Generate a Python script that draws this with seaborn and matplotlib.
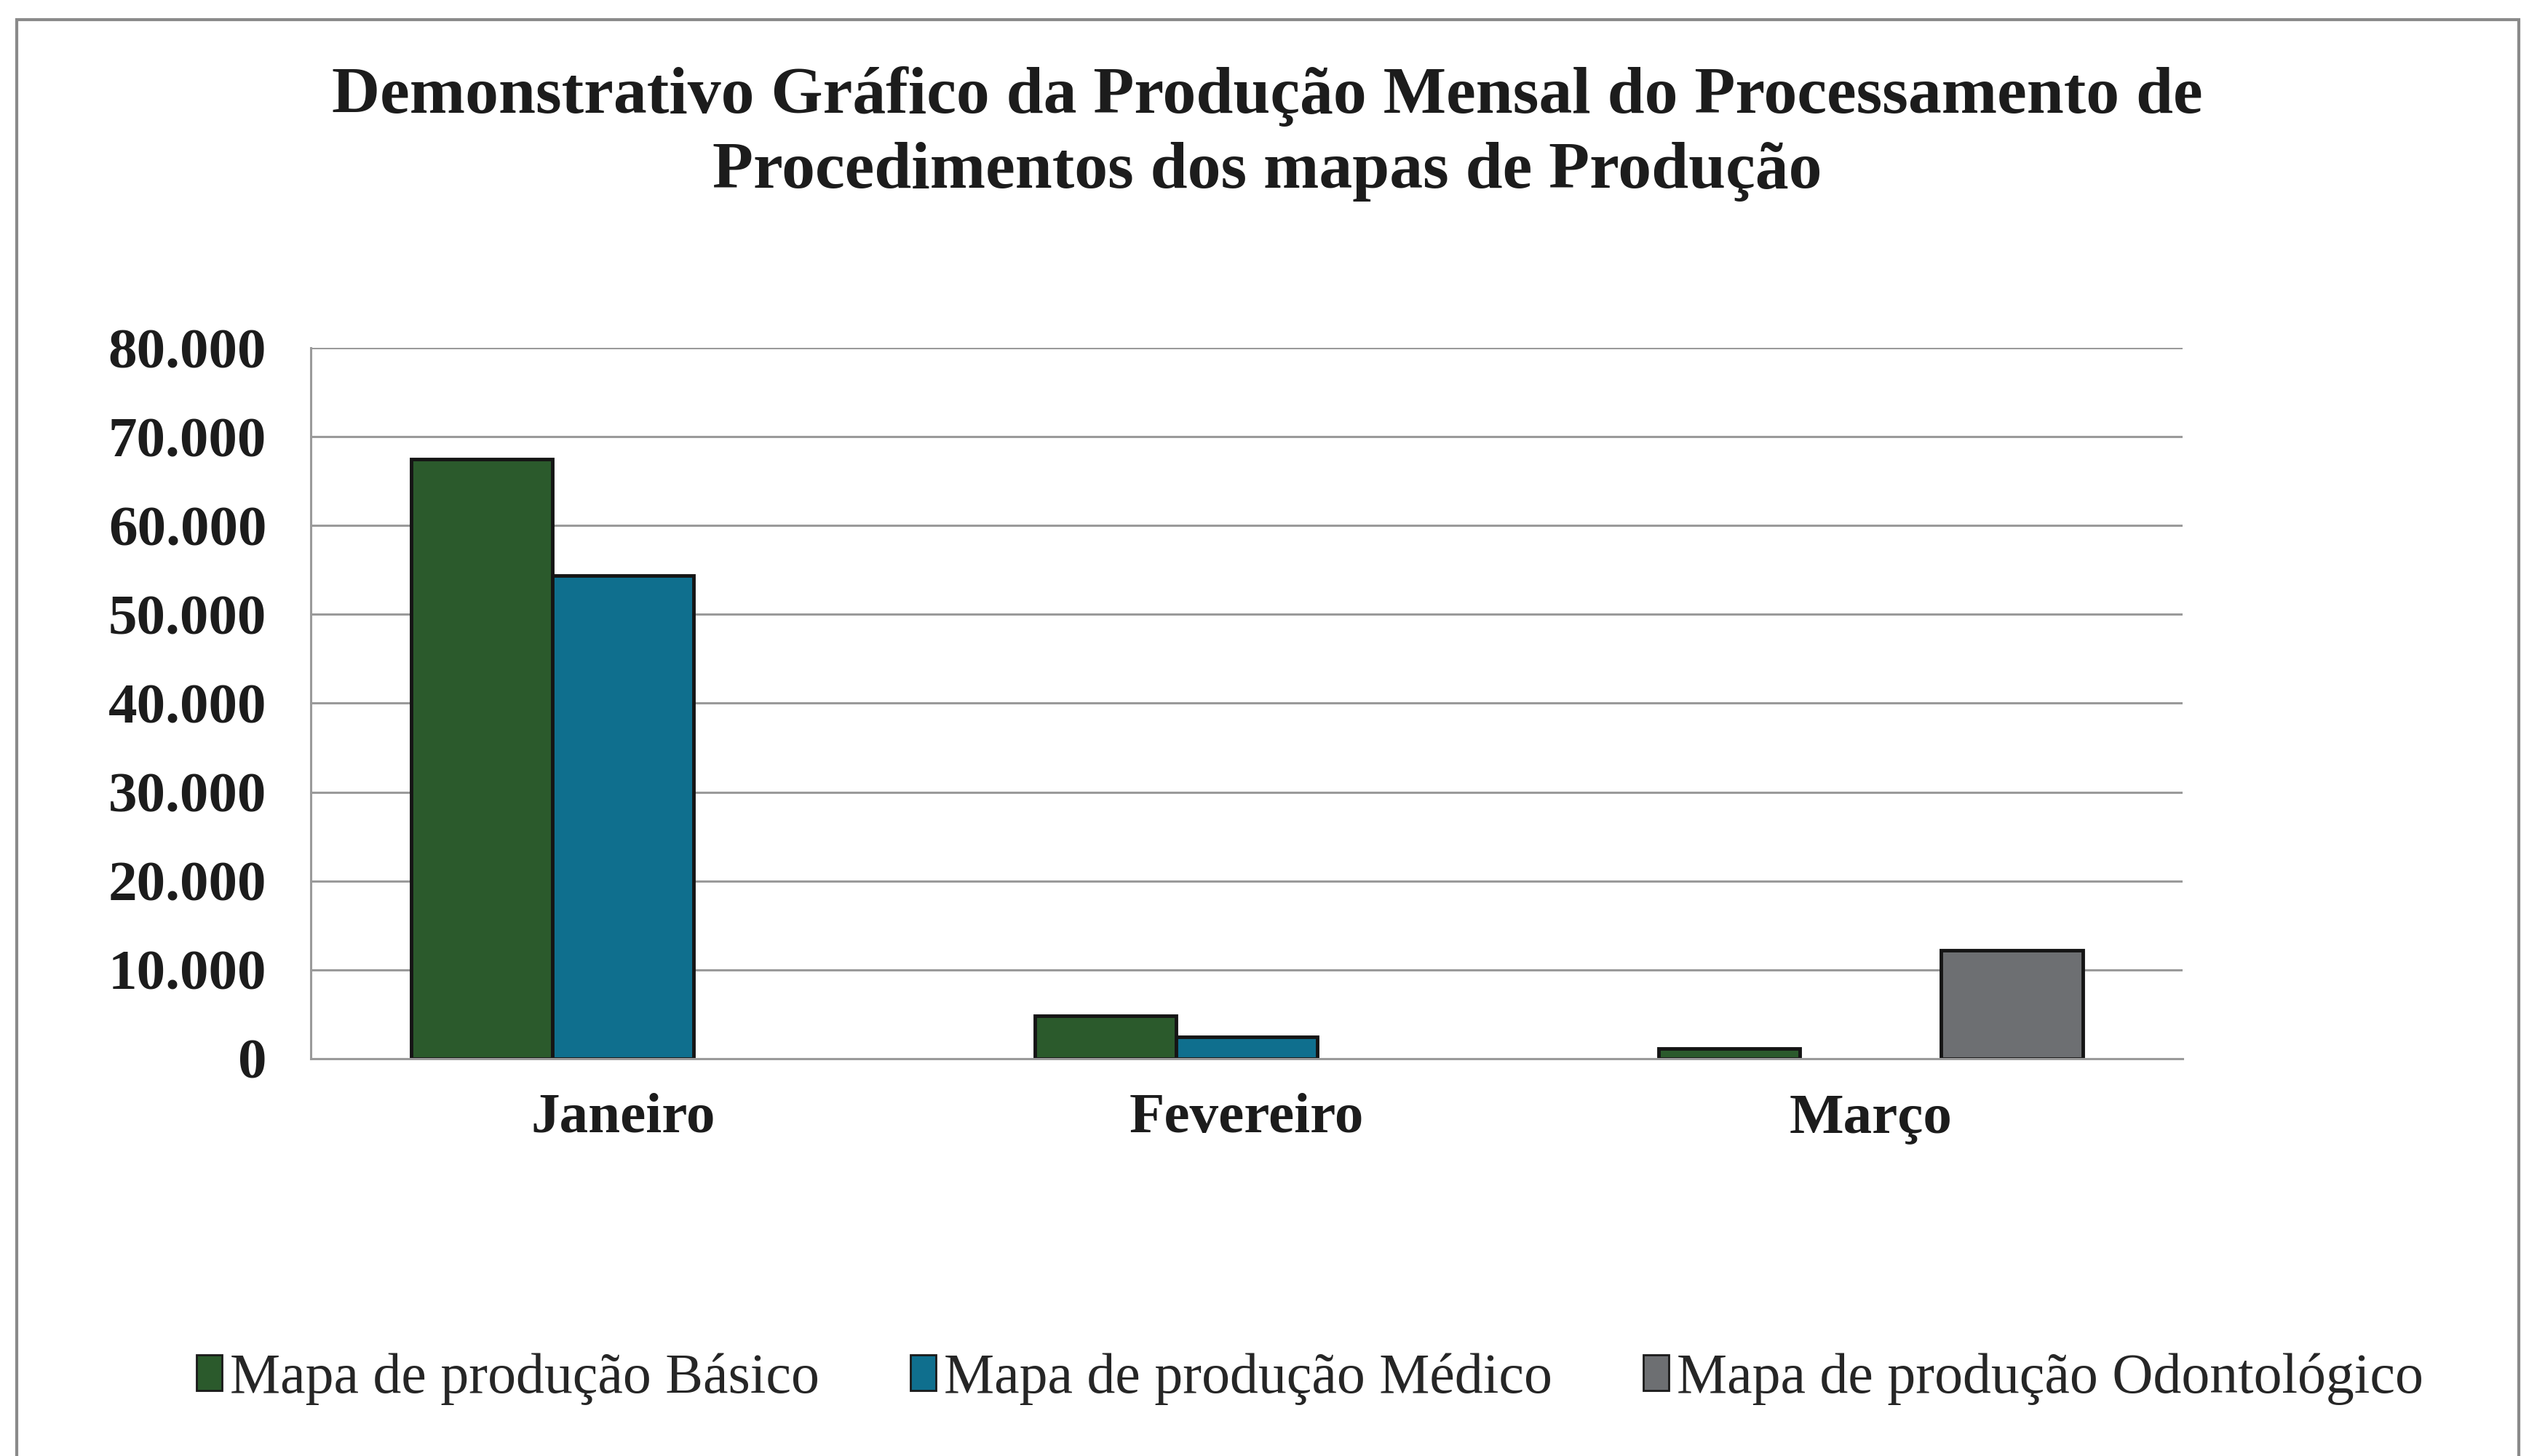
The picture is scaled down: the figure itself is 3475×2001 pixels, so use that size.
import numpy as np
import pandas as pd
import matplotlib
matplotlib.use('Agg')
import matplotlib.pyplot as plt
from matplotlib.patches import Rectangle
from matplotlib.ticker import FuncFormatter, MultipleLocator
import seaborn as sns

sns.set_theme(style='white')
plt.rcParams['font.family'] = ['Liberation Serif', 'DejaVu Serif']

# data
meses = ['Janeiro', 'Fevereiro', 'Março']
series = ['Mapa de produção Básico', 'Mapa de produção Médico', 'Mapa de produção Odontológico']
basico = [67500, 4850, 1100]
medico = [54400, 2450, 0]
odonto = [0, 0, 12200]
cores = ['#2b5a2c', '#0f6f8e', '#6d6f72']

df = pd.DataFrame({
    'mes': np.repeat(meses, 3),
    'mapa': series * 3,
    'valor': [v for trio in zip(basico, medico, odonto) for v in trio],
})
# zero bars are not drawn in the original
df = df[df.valor > 0]

fig = plt.figure(figsize=(34.75, 20.01), dpi=100)
ax = fig.add_axes([0.123, 0.273, 0.740, 0.488])

sns.barplot(data=df, x='mes', y='valor', hue='mapa', order=meses, hue_order=series,
            palette=cores, width=0.68, edgecolor='#151515', linewidth=3.5,
            saturation=1, ax=ax)

ax.set_ylim(0, 80000)
ax.yaxis.set_major_locator(MultipleLocator(10000))
ax.yaxis.set_major_formatter(FuncFormatter(lambda v, p: f'{int(v):,}'.replace(',', '.')))
ax.grid(axis='y', color='#9a9a9a', linewidth=2.2)
ax.set_axisbelow(True)
for s in ['top', 'right']:
    ax.spines[s].set_visible(False)
ax.spines['left'].set_color('#9a9a9a')
ax.spines['bottom'].set_color('#9a9a9a')
ax.spines['left'].set_linewidth(2.2)
ax.spines['bottom'].set_linewidth(2.2)
ax.set_xlabel('')
ax.set_ylabel('')
ax.tick_params(axis='y', length=0, pad=44, labelsize=57)
ax.tick_params(axis='x', length=0, pad=34, labelsize=57)
for lab in ax.get_xticklabels() + ax.get_yticklabels():
    lab.set_fontweight('bold')
    lab.set_color('#1c1c1c')

ax.legend_.remove()
handles = [Rectangle((0, 0), 1, 1, facecolor=c, edgecolor='#1a1a1a', linewidth=2) for c in cores]
fig.legend(handles, series, loc='center', bbox_to_anchor=(0.518, 0.053), ncol=3,
           frameon=False, fontsize=56, handlelength=0.45, handleheight=0.6,
           handletextpad=0.15, columnspacing=1.6)

fig.text(0.501, 0.908,
         'Demonstrativo Gráfico da Produção Mensal do Processamento de\n'
         'Procedimentos dos mapas de Produção',
         ha='center', va='center', fontsize=66, fontweight='bold',
         color='#1c1c1c', linespacing=1.33)

fig.patches.append(Rectangle((0.0065, -0.01), 0.9895, 0.9965, transform=fig.transFigure,
                             fill=False, edgecolor='#8a8a8a', linewidth=3))

plt.savefig('out.png', dpi=100)
